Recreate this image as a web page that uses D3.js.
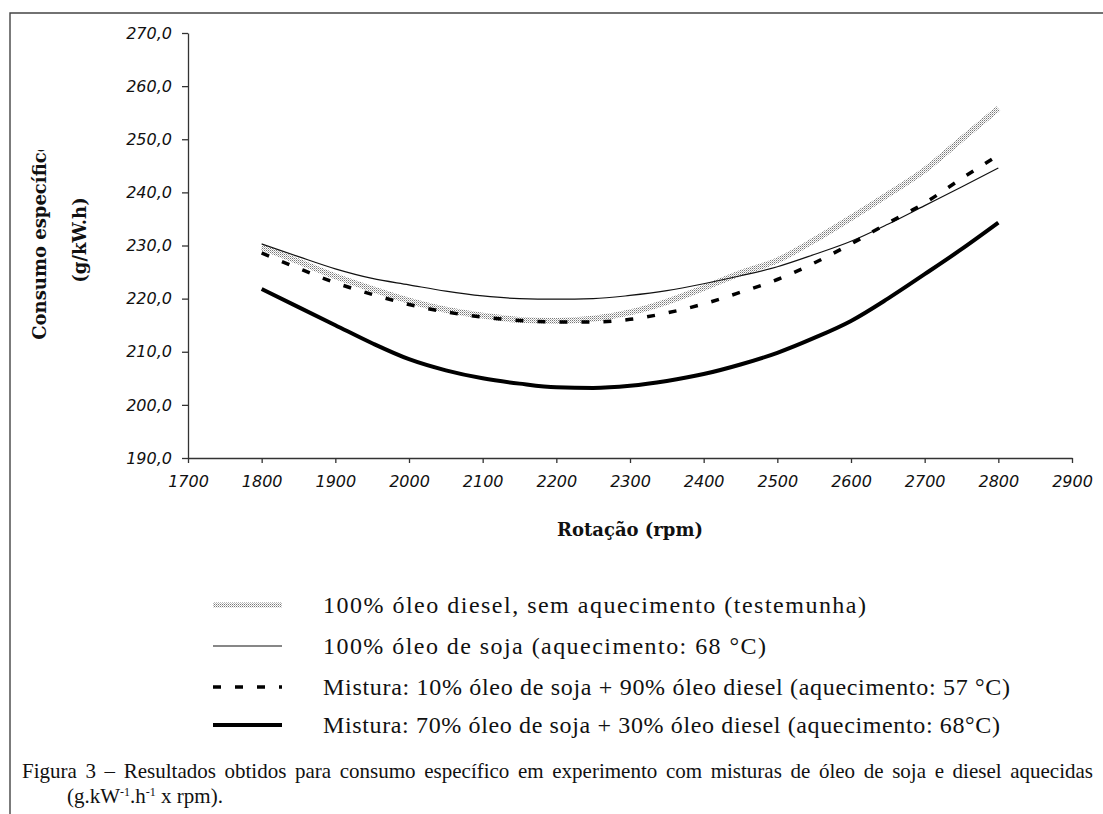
<!DOCTYPE html>
<html>
<head>
<meta charset="utf-8">
<script src="https://cdn.jsdelivr.net/npm/d3@7"></script>
<style>
  body { margin: 0; background: #fff; }
  svg { display: block; }
</style>
</head>
<body>
<svg id="chart" width="1103" height="814"></svg>
<script>
// Engine speed (rpm) at which specific consumption was evaluated
const rpm = [1800, 1850, 1900, 1950, 2000, 2050, 2100, 2150, 2200, 2250, 2300,
             2350, 2400, 2450, 2500, 2550, 2600, 2650, 2700, 2750, 2800];

// Specific fuel consumption (g/kW.h)
const diesel100 = [229.7, 227.0, 224.2, 221.8, 219.6, 217.9, 216.8, 216.0, 215.8, 216.2, 217.4,
                   219.4, 222.0, 224.8, 227.2, 231.0, 235.2, 239.6, 244.2, 250.0, 255.8];
const soja100   = [230.3, 227.9, 225.6, 223.8, 222.6, 221.4, 220.5, 220.0, 219.9, 220.0, 220.6,
                   221.5, 222.8, 224.3, 226.0, 228.3, 230.8, 234.0, 237.5, 241.0, 244.6];
const mist10    = [228.6, 225.7, 223.0, 220.8, 218.9, 217.5, 216.5, 215.9, 215.6, 215.6, 216.1,
                   217.3, 219.0, 221.2, 223.6, 226.7, 230.3, 234.2, 238.0, 242.6, 247.0];
const mist70    = [221.8, 218.4, 215.0, 211.6, 208.6, 206.5, 205.0, 204.0, 203.3, 203.2, 203.6,
                   204.5, 205.8, 207.6, 209.8, 212.6, 215.8, 220.0, 224.6, 229.3, 234.3];

// Axis ticks
const xTicks = [1700, 1800, 1900, 2000, 2100, 2200, 2300, 2400, 2500, 2600, 2700, 2800, 2900];
const yTicks = [190, 200, 210, 220, 230, 240, 250, 260, 270];
const yTickLabels = ["190,0", "200,0", "210,0", "220,0", "230,0", "240,0", "250,0", "260,0", "270,0"];

// Legend entries
const legendLabels = [
  "100% óleo diesel, sem aquecimento (testemunha)",
  "100% óleo de soja (aquecimento: 68 °C)",
  "Mistura: 10% óleo de soja + 90% óleo diesel (aquecimento: 57 °C)",
  "Mistura: 70% óleo de soja + 30% óleo diesel (aquecimento: 68°C)"
];
const legendWidths = [543, 443, 687, 677];

const captionLine1 = "Figura 3 – Resultados obtidos para consumo específico em experimento com misturas de óleo de soja e diesel aquecidas";

const svg = d3.select("#chart");

// stipple pattern for the diesel curve
const defs = svg.append("defs");
const pat = defs.append("pattern")
  .attr("id", "stipple").attr("width", 2).attr("height", 2)
  .attr("patternUnits", "userSpaceOnUse");
pat.append("rect").attr("width", 2).attr("height", 2).attr("fill", "#fff");
pat.append("rect").attr("x", 0).attr("y", 0).attr("width", 1).attr("height", 1).attr("fill", "#777");
pat.append("rect").attr("x", 1).attr("y", 1).attr("width", 1).attr("height", 1).attr("fill", "#bbb");

defs.append("clipPath").attr("id", "ylabelClip")
  .append("rect").attr("x", 0).attr("y", 150).attr("width", 120).attr("height", 300);

// frame
svg.append("path")
  .attr("d", "M10,814 V13 H1103")
  .attr("fill", "none").attr("stroke", "#444").attr("stroke-width", 1.4);

const x = d3.scaleLinear().domain([1700, 2900]).range([188, 1072]);
const y = d3.scaleLinear().domain([190, 270]).range([458, 33]);

const tickFont = "'DejaVu Sans', sans-serif";

const xAxis = svg.append("g")
  .attr("transform", `translate(0,${y(190)})`)
  .call(d3.axisBottom(x).tickValues(xTicks).tickFormat(d3.format("d"))
        .tickSize(5).tickSizeOuter(0).tickPadding(13));
const yAxis = svg.append("g")
  .attr("transform", `translate(${x(1700)},0)`)
  .call(d3.axisLeft(y).tickValues(yTicks).tickFormat((d, i) => yTickLabels[i])
        .tickSize(6).tickSizeOuter(0).tickPadding(10));

[xAxis, yAxis].forEach(g => {
  g.select(".domain").attr("stroke", "#333").attr("stroke-width", 1.3);
  g.selectAll(".tick line").attr("stroke", "#333").attr("stroke-width", 1.3);
  g.selectAll(".tick text")
    .attr("fill", "#111")
    .style("font-family", tickFont)
    .style("font-style", "italic")
    .style("font-size", "16px");
});

// axis titles
const titleFont = "'DejaVu Serif', serif";
svg.append("text")
  .attr("x", 630).attr("y", 530).attr("dy", "0.35em")
  .attr("text-anchor", "middle")
  .style("font-family", titleFont).style("font-weight", "bold").style("font-size", "18px")
  .attr("fill", "#111")
  .text("Rotação (rpm)");

const yl = svg.append("g").attr("clip-path", "url(#ylabelClip)");
yl.append("text")
  .attr("transform", "translate(40,240) rotate(-90)")
  .attr("dy", "0.35em").attr("text-anchor", "middle")
  .style("font-family", titleFont).style("font-weight", "bold").style("font-size", "18px")
  .attr("fill", "#111")
  .text("Consumo específico");
yl.append("text")
  .attr("transform", "translate(80,240) rotate(-90)")
  .attr("dy", "0.35em").attr("text-anchor", "middle")
  .style("font-family", titleFont).style("font-weight", "bold").style("font-size", "18px")
  .attr("fill", "#111")
  .text("(g/kW.h)");

// curves
const series = [
  { values: diesel100, stroke: "url(#stipple)", width: 6, dash: null },
  { values: soja100,   stroke: "#111", width: 1.2, dash: null },
  { values: mist10,    stroke: "#000", width: 3.5, dash: "8,14" },
  { values: mist70,    stroke: "#000", width: 4, dash: null }
];

const line = d3.line()
  .x((d, i) => x(rpm[i]))
  .y(d => y(d))
  .curve(d3.curveMonotoneX);

series.forEach(s => {
  svg.append("path")
    .datum(s.values)
    .attr("d", line)
    .attr("fill", "none")
    .attr("stroke", s.stroke)
    .attr("stroke-width", s.width)
    .attr("stroke-dasharray", s.dash)
    .attr("stroke-linejoin", "round");
});

// legend
const legendRows = [605, 646, 687, 725];
const legendFont = "'Liberation Serif', 'Times New Roman', serif";
series.forEach((s, i) => {
  const ly = legendRows[i];
  svg.append("line")
    .attr("x1", 213).attr("x2", 282)
    .attr("y1", ly).attr("y2", ly)
    .attr("stroke", s.stroke)
    .attr("stroke-width", i === 0 ? 5 : s.width)
    .attr("stroke-dasharray", s.dash);
  svg.append("text")
    .attr("x", 323).attr("y", ly).attr("dy", "0.35em")
    .attr("textLength", legendWidths[i]).attr("lengthAdjust", "spacing")
    .style("font-family", legendFont).style("font-size", "24px")
    .attr("fill", "#111")
    .text(legendLabels[i]);
});

// caption, first line justified between the margins
const capFont = "'Liberation Serif', 'Times New Roman', serif";
const cap1 = svg.append("text")
  .attr("x", 22).attr("y", 778)
  .style("font-family", capFont).style("font-size", "21px")
  .attr("fill", "#111")
  .text(captionLine1);
const natural = cap1.node().getComputedTextLength();
const gaps = captionLine1.split(" ").length - 1;
cap1.style("word-spacing", ((1071 - natural) / gaps) + "px");

const cap2 = svg.append("text")
  .attr("x", 67).attr("y", 803)
  .style("font-family", capFont).style("font-size", "21px")
  .attr("fill", "#111");
cap2.append("tspan").text("(g.kW");
cap2.append("tspan").attr("dy", -7).style("font-size", "12px").text("-1");
cap2.append("tspan").attr("dy", 7).text(".h");
cap2.append("tspan").attr("dy", -7).style("font-size", "12px").text("-1");
cap2.append("tspan").attr("dy", 7).text(" x rpm).");
</script>
</body>
</html>
